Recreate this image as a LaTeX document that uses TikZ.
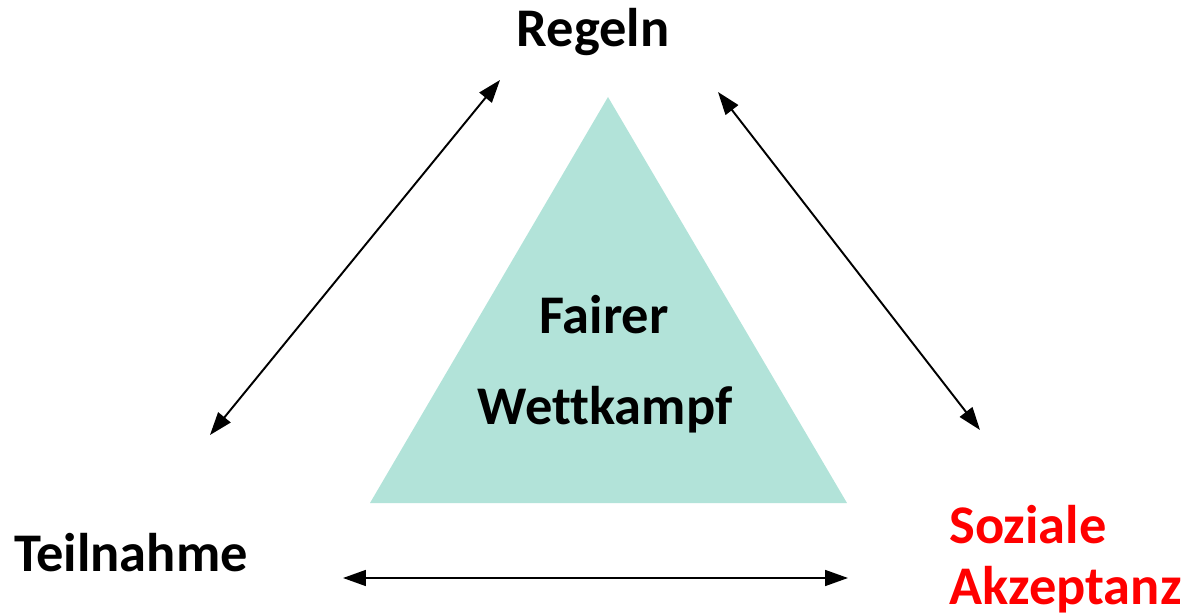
\documentclass[tikz,border=0pt]{standalone}
\usepackage{fontspec}
\setmainfont[Ligatures=NoCommon]{Carlito}
\usepackage{xcolor}
\usetikzlibrary{arrows.meta,positioning}

\definecolor{fairgreen}{RGB}{178,227,217}
\definecolor{akzeptred}{RGB}{255,0,0}

\tikzset{
    label text/.style={font=\bfseries\fontsize{31}{35}\selectfont, inner sep=0pt},
    link/.style={{Triangle[length=13pt,width=9pt]}-{Triangle[length=13pt,width=9pt]}, line width=1.1pt}
}

\begin{document}
\begin{tikzpicture}[x=0.02cm, y=-0.02cm]
        \useasboundingbox (0,0) rectangle (1181,615);
        % triangle in the middle
        \fill[fairgreen] (608,97) -- (847,503) -- (370,503) -- cycle;
        \node[label text] (fairer) at (604,315) {Fairer};
        \node[label text] (wettkampf) at (605,410) {Wettkampf};

        % corners
        \node[label text] (regeln) at (593,32) {Regeln};
        \node[label text] (teilnahme) at (131,553) {Teilnahme};
        \node[label text, text=akzeptred, align=left, anchor=west] (akzeptanz) at (949,559) {Soziale\\Akzeptanz};

        % arrow ends
        \coordinate (tl-a) at (210,435);
        \coordinate (tl-b) at (500,80);
        \coordinate (rs-a) at (718,92);
        \coordinate (rs-b) at (980,430);
        \coordinate (ts-a) at (343,578);
        \coordinate (ts-b) at (848,578);

        \draw[link] (tl-a) -- (tl-b);
        \draw[link] (rs-a) -- (rs-b);
        \draw[link] (ts-a) -- (ts-b);
    \end{tikzpicture}
\end{document}
